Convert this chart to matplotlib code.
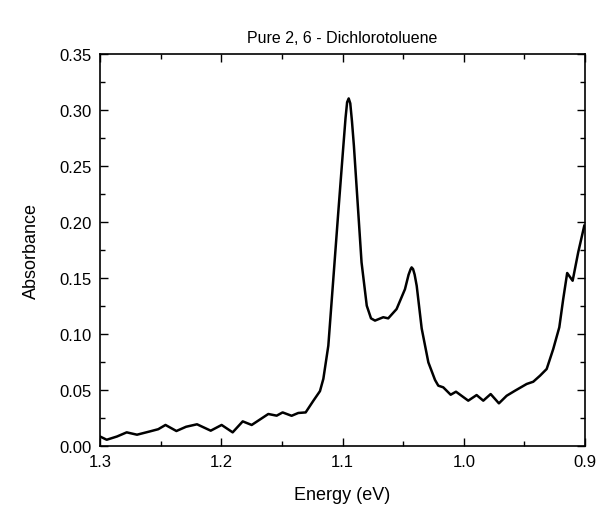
import matplotlib.pyplot as plt
from matplotlib.ticker import MultipleLocator

plt.rcParams['font.family'] = ['Liberation Sans', 'DejaVu Sans']

# values
energy = [1.300, 1.2945, 1.286, 1.278, 1.2695, 1.259, 1.252, 1.246, 1.237, 1.229,
          1.220, 1.2087, 1.1997, 1.1906, 1.1823, 1.1749, 1.1612, 1.1543, 1.1494,
          1.142, 1.1365, 1.1304, 1.124, 1.1186, 1.1158, 1.1117, 1.1076, 1.1035,
          1.0993, 1.0975, 1.0962, 1.0949, 1.0936, 1.0922, 1.0906, 1.087, 1.0843,
          1.080, 1.0765, 1.0732, 1.0664, 1.0623, 1.0554, 1.0485, 1.0455, 1.0438,
          1.043, 1.0418, 1.0405, 1.0388, 1.0347, 1.0292, 1.0237, 1.021, 1.0169,
          1.0108, 1.0064, 0.9963, 0.9894, 0.9839, 0.9778, 0.9710, 0.9646, 0.9577,
          0.9481, 0.9427, 0.9371, 0.9316, 0.9262, 0.9212, 0.918, 0.9147, 0.9102,
          0.9056, 0.9006]
absorbance = [0.0085, 0.0056, 0.0085, 0.0122, 0.0101, 0.0130, 0.0150, 0.0188, 0.0134, 0.0172,
              0.0194, 0.0137, 0.0188, 0.0122, 0.0220, 0.0188, 0.0286, 0.0271, 0.0300,
              0.0270, 0.0295, 0.0300, 0.0405, 0.0490, 0.0600, 0.0896, 0.1490, 0.2086,
              0.2680, 0.2930, 0.3070, 0.3104, 0.3060, 0.2900, 0.2680, 0.2086, 0.1640,
              0.1253, 0.1140, 0.1120, 0.1150, 0.1140, 0.1223, 0.1400, 0.1530, 0.1580,
              0.1595, 0.1580, 0.1530, 0.1430, 0.1050, 0.0747, 0.0590, 0.0539, 0.0524,
              0.0458, 0.0485, 0.0405, 0.0455, 0.0405, 0.0464, 0.0381, 0.0449, 0.0494,
              0.0554, 0.0574, 0.0628, 0.0688, 0.0866, 0.1060, 0.1310, 0.1545, 0.1476,
              0.1730, 0.1967]

fig = plt.figure(figsize=(6, 5.1), dpi=100)
ax = fig.add_axes([0.1667, 0.1235, 0.8083, 0.7685])
ax.plot(energy, absorbance, color='black', linewidth=1.8)

ax.set_xlim(1.3, 0.9)
ax.set_ylim(0, 0.35)
ax.xaxis.set_major_locator(MultipleLocator(0.1))
ax.xaxis.set_minor_locator(MultipleLocator(0.05))
ax.yaxis.set_major_locator(MultipleLocator(0.05))
ax.yaxis.set_minor_locator(MultipleLocator(0.025))
ax.xaxis.set_major_formatter(plt.FormatStrFormatter('%.1f'))
ax.yaxis.set_major_formatter(plt.FormatStrFormatter('%.2f'))
ax.tick_params(which='both', direction='in', top=True, right=True, labelsize=12)
ax.tick_params(which='major', length=6, width=1)
ax.tick_params(which='minor', length=3.5, width=1)
ax.tick_params(axis='x', pad=6)
ax.tick_params(axis='y', pad=6)
for s in ax.spines.values():
    s.set_linewidth(1.2)

ax.set_xlabel('Energy (eV)', fontsize=13, labelpad=12)
ax.set_ylabel('Absorbance', fontsize=13, labelpad=14)
ax.set_title('Pure 2, 6 - Dichlorotoluene', fontsize=11.5, pad=9)

fig.savefig('out.png', dpi=100)
